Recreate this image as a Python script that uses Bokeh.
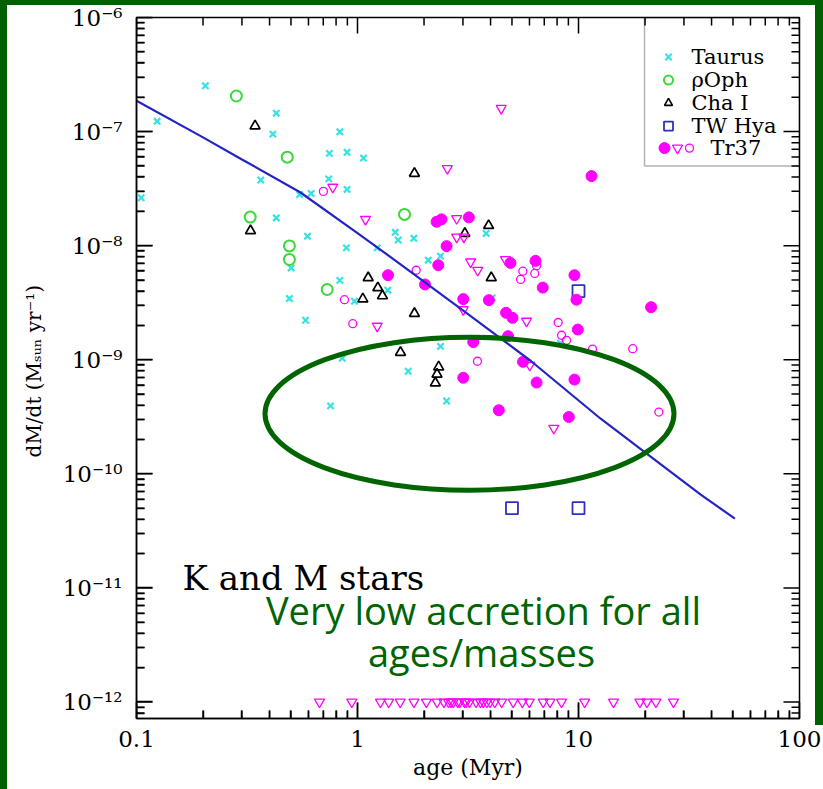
from bokeh.plotting import figure
from bokeh.models import (FixedTicker, CustomJSTickFormatter, BoxAnnotation,
                          Label, Range1d, InlineStyleSheet)
from bokeh.embed import file_html
from bokeh.resources import INLINE

# ---------------------------------------------------------------- data
# Taurus (Myr, Msun/yr)
taurus_age = [0.205, 0.124, 0.105, 0.429, 0.414, 0.832, 0.746, 0.897, 1.064,
              0.365, 0.741, 0.897, 0.617, 0.547, 0.429, 0.594, 0.891, 1.228,
              1.481, 1.528, 0.501, 0.832, 0.492, 0.969, 1.371, 0.582, 0.853,
              1.798, 3.82, 2.09, 2.375, 4.07, 8.29, 2.375, 1.696, 2.53, 0.755]
taurus_mdot = [2.52e-7, 1.23e-7, 2.63e-8, 1.45e-7, 9.5e-8, 9.96e-8, 6.44e-8,
               6.58e-8, 5.86e-8, 3.76e-8, 3.85e-8, 3.11e-8, 2.87e-8, 2.81e-8,
               1.75e-8, 1.21e-8, 9.57e-9, 9.57e-9, 1.31e-8, 1.12e-8, 6.38e-9,
               4.96e-9, 3.44e-9, 3.26e-9, 4.07e-9, 2.22e-9, 1.03e-9, 1.16e-8,
               1.28e-8, 7.46e-9, 8.09e-9, 3.48e-9, 1.40e-9, 1.31e-9, 7.93e-10,
               4.35e-10, 3.94e-10]

# rho Oph
oph_age = [0.283, 0.481, 0.327, 0.492, 0.492, 0.729, 1.632]
oph_mdot = [2.05e-7, 5.97e-8, 1.78e-8, 9.95e-9, 7.57e-9, 4.13e-9, 1.88e-8]

# Cha I
cha_age = [0.344, 0.328, 1.118, 1.236, 1.297, 1.057, 1.81, 3.92, 3.06, 4.03,
           1.81, 1.565, 2.33, 2.29, 2.25]
cha_mdot = [1.12e-7, 1.35e-8, 5.23e-9, 4.27e-9, 3.63e-9, 3.41e-9, 4.30e-8,
            1.50e-8, 1.28e-8, 5.23e-9, 2.54e-9, 1.16e-9, 8.65e-10, 7.46e-10,
            6.25e-10]

# TW Hya association
twhya_age = [10.0, 5.0, 10.0]
twhya_mdot = [4.0e-9, 5.0e-11, 5.0e-11]

# Tr 37, filled circles
tr37_fill_age = [1.374, 11.45, 2.28, 2.40, 3.19, 2.53, 2.32, 4.92, 6.39, 9.59,
                 6.89, 9.79, 21.3, 2.02, 3.01, 3.93, 4.70, 5.03, 9.93, 4.80,
                 3.34, 5.61, 3.01, 6.46, 9.59, 4.36, 9.04]
tr37_fill_mdot = [5.51e-9, 4.07e-8, 1.62e-8, 1.70e-8, 1.77e-8, 9.9e-9, 6.74e-9,
                  7.06e-9, 7.36e-9, 5.51e-9, 4.29e-9, 3.36e-9, 2.89e-9, 4.57e-9,
                  3.40e-9, 3.33e-9, 2.58e-9, 2.33e-9, 1.84e-9, 1.61e-9, 1.43e-9,
                  9.59e-10, 6.95e-10, 6.31e-10, 6.70e-10, 3.61e-10, 3.15e-10]

# Tr 37, open circles
tr37_open_age = [0.701, 0.873, 0.952, 1.843, 5.60, 6.34, 6.46, 5.47, 8.09,
                 8.38, 8.83, 11.57, 17.6, 3.49, 23.1]
tr37_open_mdot = [2.99e-8, 3.36e-9, 2.07e-9, 6.09e-9, 5.97e-9, 5.71e-9, 6.68e-9,
                  5.06e-9, 2.12e-9, 1.64e-9, 1.48e-9, 1.24e-9, 1.25e-9, 9.70e-10,
                  3.48e-10]

# Tr 37, upper limits (inverted triangles)
tr37_lim_age = [0.773, 1.087, 1.228, 4.47, 2.55, 2.81, 2.81, 3.03, 3.25, 3.50,
                4.67, 3.01, 5.82, 6.02, 7.73,
                0.673, 0.942, 1.27, 1.384, 1.56, 1.80, 2.05, 2.29, 2.46, 2.58,
                2.65, 2.71, 2.84, 2.90, 3.05, 3.10, 3.21, 3.44, 3.60, 3.71,
                3.85, 3.98, 4.18, 4.49, 5.06, 5.57, 5.99, 6.92, 7.43, 8.38,
                10.66, 14.4, 18.96, 20.4, 22.4, 26.9]
tr37_lim_mdot = [3.26e-8, 1.70e-8, 1.97e-9, 1.60e-7, 4.75e-8, 1.73e-8, 1.19e-8,
                 1.19e-8, 7.21e-9, 6.09e-9, 7.57e-9, 2.75e-9, 2.18e-9, 8.95e-10,
                 2.51e-10] + [1.0e-12] * 36

# Viscous-disc evolution model
model_age = [0.1, 0.2, 0.3, 0.55, 1.0, 1.56, 3.0, 6.07, 12.6, 20.0, 35.6, 51.0]
model_mdot = [1.86e-7, 8.9e-8, 5.7e-8, 2.94e-8, 1.29e-8, 6.9e-9, 2.71e-9,
              9.8e-10, 3.04e-10, 1.54e-10, 6.6e-11, 4.05e-11]

# Axes ticks
x_major = [0.1, 1.0, 10.0, 100.0]
x_minor = [m * 10.0 ** e for e in (-1, 0, 1) for m in range(2, 10)]
y_exponents = [-12, -11, -10, -9, -8, -7, -6]
y_major = [10.0 ** e for e in y_exponents]
y_minor = [m * 10.0 ** e for e in range(-13, -6) for m in range(2, 10)]

legend_names = ["Taurus", "\u03c1Oph", "Cha I", "TW Hya", "Tr37"]

# ---------------------------------------------------------------- style
W, H = 823, 789
FRAME_L, FRAME_R, FRAME_T, FRAME_B = 136, 799, 17.5, 718
PX_PER_DEC_X, PX_PER_DEC_Y = 221.0, 114.0
Y_MIN = 10 ** (-6 - (FRAME_B - FRAME_T) / PX_PER_DEC_Y)
X_MIN, X_MAX, Y_MAX = 0.1, 100.0, 1e-6

CYAN = "#35e3e3"
GREEN = "#3ad83a"
BLUE = "#3030c0"
MAGENTA = "#ff00ff"
LINE_BLUE = "#2424c4"
DARK_GREEN = "#006400"
PAGE_GREEN = "#006000"
SERIF = "DejaVu Serif"


def sx(px):
    """Canvas x pixel -> age (annotation placement only)."""
    return 10 ** ((px - FRAME_L) / PX_PER_DEC_X - 1)


def sy(py):
    """Canvas y pixel -> accretion rate (annotation placement only)."""
    return 10 ** (-6 - (py - FRAME_T) / PX_PER_DEC_Y)


def fx(npx):
    """Multiplicative factor spanning npx pixels along the age axis."""
    return 10 ** (npx / PX_PER_DEC_X)


def fy(npx):
    """Multiplicative factor spanning npx pixels along the rate axis."""
    return 10 ** (npx / PX_PER_DEC_Y)


p = figure(width=W, height=H, x_axis_type="log", y_axis_type="log",
           x_range=Range1d(X_MIN, X_MAX), y_range=Range1d(Y_MIN, Y_MAX),
           output_backend="svg", toolbar_location=None,
           min_border_left=FRAME_L, min_border_right=W - FRAME_R,
           min_border_top=int(FRAME_T), min_border_bottom=H - FRAME_B)
p.grid.visible = False
p.background_fill_color = "white"
p.border_fill_color = "white"
p.outline_line_color = "black"
p.outline_line_width = 1.5

# dark green page border: top and left all the way, right band partway down
p.stylesheets = [InlineStyleSheet(css=(
    ":host { position: relative; }"
    ":host::after { content: ''; position: absolute; left: 0; top: 0;"
    " right: 0; bottom: 0; box-sizing: border-box; border-style: solid;"
    f" border-color: {PAGE_GREEN}; border-width: 5px 0px 0px 7px;"
    " pointer-events: none; z-index: 100; }"
    ":host::before { content: ''; position: absolute; right: 0; top: 0;"
    f" width: 8px; height: 725px; background: {PAGE_GREEN};"
    " pointer-events: none; z-index: 100; }"))]

sup = ('const s = {"-": "\\u207b", "0": "\\u2070", "1": "\\u00b9", "2": "\\u00b2",'
       ' "3": "\\u00b3", "4": "\\u2074", "5": "\\u2075", "6": "\\u2076",'
       ' "7": "\\u2077", "8": "\\u2078", "9": "\\u2079"};'
       'const e = Math.round(Math.log10(tick));'
       'return "10" + String(e).split("").map(c => s[c]).join("");')

TICK_MAJ, TICK_MIN = 16, 8

for ax in (p.xaxis[0], p.yaxis[0]):
    ax.major_tick_in = TICK_MAJ
    ax.major_tick_out = 0
    ax.minor_tick_in = TICK_MIN
    ax.minor_tick_out = 0
    ax.major_tick_line_color = "black"
    ax.minor_tick_line_color = "black"
    ax.major_tick_line_width = 1.5
    ax.minor_tick_line_width = 1.5
    ax.axis_line_width = 1.5
    ax.axis_line_color = "black"
    ax.major_label_text_font = SERIF
    ax.major_label_text_font_size = "23px"
    ax.major_label_text_color = "black"

xa = p.xaxis[0]
xa.ticker = FixedTicker(ticks=x_major, minor_ticks=x_minor)
xa.formatter = CustomJSTickFormatter(code="return tick.toString();")
xa.major_label_standoff = 12
xa.axis_label = "age (Myr)"
xa.axis_label_text_font = SERIF
xa.axis_label_text_font_size = "22px"
xa.axis_label_text_font_style = "normal"
xa.axis_label_text_color = "black"
xa.axis_label_standoff = 5

ya = p.yaxis[0]
ya.ticker = FixedTicker(ticks=y_major, minor_ticks=y_minor)
ya.formatter = CustomJSTickFormatter(code=sup)
ya.axis_label = "dM/dt (M\u209b\u1d64\u2099  yr\u207b\u00b9)"
ya.major_label_standoff = 14
ya.axis_label_text_font = SERIF
ya.axis_label_text_font_size = "20px"
ya.axis_label_text_font_style = "normal"
ya.axis_label_text_color = "black"
ya.axis_label_standoff = 14

# ---------------------------------------------------------------- marks
p.scatter(taurus_age, taurus_mdot, marker="x", size=9, line_color=CYAN,
          line_width=2.2)
p.scatter(oph_age, oph_mdot, marker="circle", size=11, fill_color=None,
          line_color=GREEN, line_width=2)
p.scatter(cha_age, cha_mdot, marker="triangle", size=10, fill_color=None,
          line_color="black", line_width=1.7)
p.scatter(twhya_age, twhya_mdot, marker="square", size=12, fill_color=None,
          line_color=BLUE, line_width=1.8)
p.scatter(tr37_open_age, tr37_open_mdot, marker="circle", size=8,
          fill_color=None, line_color=MAGENTA, line_width=1.3)
p.scatter(tr37_lim_age, tr37_lim_mdot, marker="inverted_triangle", size=10,
          fill_color=None, line_color=MAGENTA, line_width=1.3)
p.scatter(tr37_fill_age, tr37_fill_mdot, marker="circle", size=11,
          fill_color=MAGENTA, line_color=MAGENTA)

p.line(model_age, model_mdot, line_color=LINE_BLUE, line_width=2.2)

# highlighted low-accretion region
p.ellipse(x=[sx(469)], y=[sy(413.5)], width=409, height=153,
          width_units="screen", height_units="screen",
          fill_color=None, line_color=DARK_GREEN, line_width=5)

# ---------------------------------------------------------------- frame ticks
# inward ticks on the top and right sides mirror the bottom and left axes
y_minor_in = [v for v in y_minor if v > Y_MIN]
mxs, mys = [], []
for xs, ln in ((x_major, TICK_MAJ), (x_minor, TICK_MIN)):
    for v in xs:
        mxs += [[v, v], [v, v]]
        mys += [[Y_MIN, Y_MIN * fy(ln)], [Y_MAX, Y_MAX / fy(ln)]]
for ys, ln in ((y_major, TICK_MAJ), (y_minor_in, TICK_MIN)):
    for v in ys:
        mxs += [[X_MIN, X_MIN * fx(ln)], [X_MAX, X_MAX / fx(ln)]]
        mys += [[v, v], [v, v]]
p.multi_line(xs=mxs, ys=mys, line_color="black", line_width=1.5)

# ---------------------------------------------------------------- legend
p.add_layout(BoxAnnotation(left=sx(644), right=X_MAX, top=Y_MAX, bottom=sy(166),
                           fill_alpha=0, line_color="black", line_width=1.5))
rows = [57, 80, 103, 126, 148]
mx = sx(668)
p.scatter([mx], [sy(rows[0])], marker="x", size=9, line_color=CYAN,
          line_width=2.2)
p.scatter([mx], [sy(rows[1])], marker="circle", size=9, fill_color=None,
          line_color=GREEN, line_width=2)
p.scatter([mx], [sy(rows[2])], marker="triangle", size=8, fill_color=None,
          line_color="black", line_width=1.6)
p.scatter([mx], [sy(rows[3])], marker="square", size=9, fill_color=None,
          line_color=BLUE, line_width=1.8)
p.scatter([sx(664)], [sy(rows[4])], marker="circle", size=11,
          fill_color=MAGENTA, line_color=MAGENTA)
p.scatter([sx(677)], [sy(rows[4])], marker="inverted_triangle", size=10,
          fill_color=None, line_color=MAGENTA, line_width=1.3)
p.scatter([sx(689)], [sy(rows[4])], marker="circle", size=8, fill_color=None,
          line_color=MAGENTA, line_width=1.3)
for i, name in enumerate(legend_names):
    lx = sx(710) if i == 4 else sx(691)
    p.add_layout(Label(x=lx, y=sy(rows[i]), text=name, text_font=SERIF,
                       text_font_size="21px", text_baseline="middle",
                       text_align="left", text_color="black"))

# ---------------------------------------------------------------- texts
p.add_layout(Label(x=sx(182), y=sy(578), text="K and M stars", text_font=SERIF,
                   text_font_size="34px", text_baseline="alphabetic",
                   text_align="left", text_color="black"))
p.add_layout(Label(x=sx(483), y=sy(610), text="Very low accretion for all",
                   text_font="Open Sans", text_font_size="38px",
                   text_baseline="alphabetic", text_align="center",
                   text_color=DARK_GREEN))
p.add_layout(Label(x=sx(481), y=sy(652), text="ages/masses",
                   text_font="Open Sans", text_font_size="38px",
                   text_baseline="alphabetic", text_align="center",
                   text_color=DARK_GREEN))

open("out.html", "w").write(file_html(p, INLINE))
